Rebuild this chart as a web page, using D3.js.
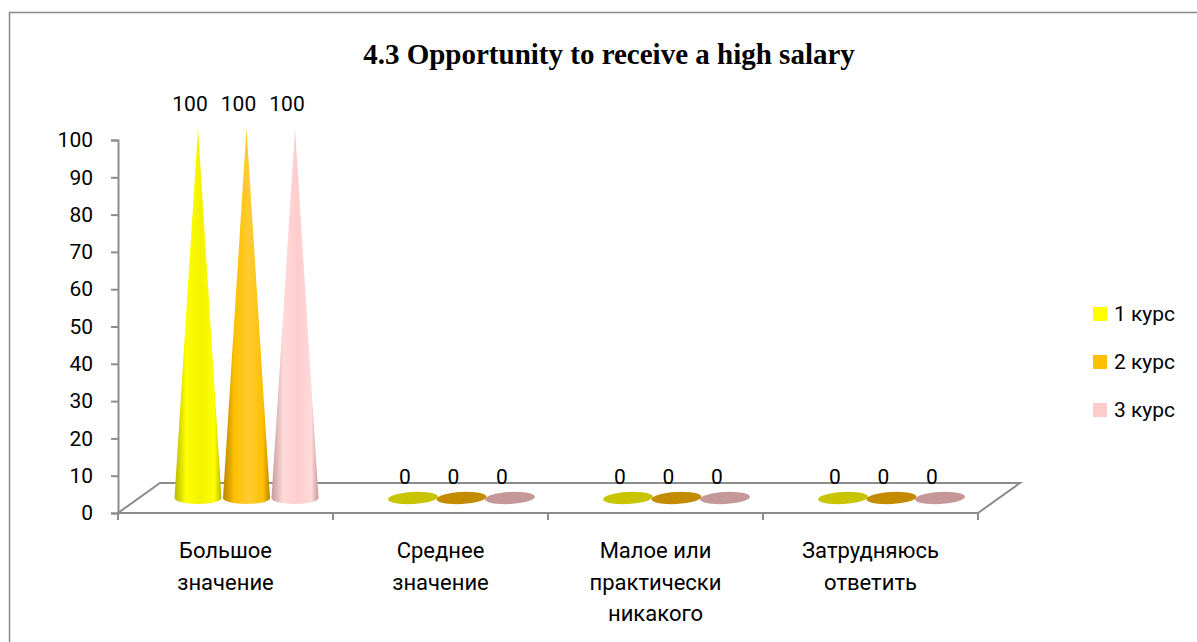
<!DOCTYPE html>
<html>
<head>
<meta charset="utf-8">
<script src="https://cdnjs.cloudflare.com/ajax/libs/d3/7.8.5/d3.min.js"></script>
<style>
  html, body { margin: 0; padding: 0; background: #fff; }
  svg text { font-family: Roboto, "Noto Sans", sans-serif; fill: #000; }
</style>
</head>
<body>
<div id="chart"></div>
<script>
// chart data
var categories = [
    ['Большое', 'значение'],
    ['Среднее', 'значение'],
    ['Малое или', 'практически', 'никакого'],
    ['Затрудняюсь', 'ответить']
];
var seriesNames = ['1 курс', '2 курс', '3 курс'];
var seriesValues = [
    [100, 0, 0, 0],
    [100, 0, 0, 0],
    [100, 0, 0, 0]
];
var yTicks = [0, 10, 20, 30, 40, 50, 60, 70, 80, 90, 100];
var titleText = '4.3 Opportunity to receive a high salary';

var seriesColors = [
    {light: '#ffff00', mid: '#f2f200', dark: '#b8b800', flat: '#c8c400', key: '#ffff00'},
    {light: '#ffc000', mid: '#ffcc33', dark: '#b88600', flat: '#c38b00', key: '#ffc000'},
    {light: '#ffdada', mid: '#ffcccc', dark: '#c49a9a', flat: '#c49898', key: '#ffcccc'}
];

var width = 1197, height = 642;
var plot = {left: 118, right: 978, top: 140, bottom: 513};
var depth = {dx: 42, dy: -30};
var fontSize = '21px';

var svg = d3.select('#chart').append('svg')
    .attr('width', width)
    .attr('height', height);

var defs = svg.append('defs');
seriesColors.forEach(function (c, i) {
    var g = defs.append('linearGradient')
        .attr('id', 'cone' + i)
        .attr('x1', '0%').attr('x2', '100%')
        .attr('y1', '0%').attr('y2', '0%');
    g.append('stop').attr('offset', '0%').attr('stop-color', c.dark);
    g.append('stop').attr('offset', '25%').attr('stop-color', c.light);
    g.append('stop').attr('offset', '55%').attr('stop-color', c.mid);
    g.append('stop').attr('offset', '85%').attr('stop-color', c.light);
    g.append('stop').attr('offset', '100%').attr('stop-color', c.dark);
});

// outer border
svg.append('rect')
    .attr('x', 9.5).attr('y', 12.5)
    .attr('width', width + 10).attr('height', height + 10)
    .attr('fill', 'none')
    .attr('stroke', '#898989')
    .attr('stroke-width', 1.5);

svg.append('text')
    .attr('x', 609).attr('y', 64)
    .attr('text-anchor', 'middle')
    .style('font-family', '"Liberation Serif", "Times New Roman", serif')
    .style('font-weight', 'bold')
    .style('font-size', '29px')
    .text(titleText);

var x = d3.scaleBand()
    .domain(d3.range(categories.length))
    .range([plot.left, plot.right]);
var xSub = d3.scaleBand()
    .domain(d3.range(seriesNames.length))
    .range([-72.75, 72.75]);
var y = d3.scaleLinear()
    .domain([0, 100])
    .range([plot.bottom, plot.top]);

// floor
var floor = [
    [plot.left, plot.bottom],
    [plot.right, plot.bottom],
    [plot.right + depth.dx, plot.bottom + depth.dy],
    [plot.left + depth.dx, plot.bottom + depth.dy]
];
svg.append('path')
    .attr('d', d3.line()(floor) + 'Z')
    .attr('fill', 'none')
    .attr('stroke', '#8c8c8c')
    .attr('stroke-width', 2);

// y axis
var yAxis = d3.axisLeft(y)
    .tickValues(yTicks)
    .tickSize(7);
var yG = svg.append('g')
    .attr('transform', 'translate(' + plot.left + ',0)')
    .call(yAxis);
yG.select('.domain').attr('stroke', '#8c8c8c').attr('stroke-width', 2);
yG.selectAll('.tick line').attr('stroke', '#8c8c8c').attr('stroke-width', 2);
yG.selectAll('.tick text')
    .style('font-size', fontSize)
    .style('font-family', 'Roboto, "Noto Sans", sans-serif')
    .attr('x', -25);

// x axis ticks
var xTickPos = d3.range(categories.length + 1).map(function (i) {
    return i < categories.length ? x(i) : plot.right;
});
svg.append('g').selectAll('line')
    .data(xTickPos)
    .enter().append('line')
    .attr('x1', function (d) { return d; })
    .attr('x2', function (d) { return d; })
    .attr('y1', plot.bottom)
    .attr('y2', plot.bottom + 7)
    .attr('stroke', '#8c8c8c')
    .attr('stroke-width', 2);

// category labels
var catG = svg.append('g').selectAll('text')
    .data(categories)
    .enter().append('text')
    .attr('text-anchor', 'middle')
    .style('font-size', '22px')
    .attr('transform', function (d, i) {
        return 'translate(' + (x(i) + x.bandwidth() / 2) + ',558)';
    });
catG.selectAll('tspan')
    .data(function (d) { return d; })
    .enter().append('tspan')
    .attr('x', 0)
    .attr('y', function (d, i) { return i * 31.5; })
    .text(function (d) { return d; });

// marks
var baseY = plot.bottom + depth.dy / 2;
var coneRx = 23.5, coneRy = 6;
var marks = [];
seriesValues.forEach(function (vals, s) {
    vals.forEach(function (v, c) {
        marks.push({s: s, c: c, v: v});
    });
});

function cx(d) {
    return x(d.c) + x.bandwidth() / 2 + xSub(d.s) + xSub.bandwidth() / 2 + depth.dx / 2;
}

var markG = svg.append('g');
marks.forEach(function (d) {
    var px = cx(d);
    if (d.v > 0) {
        var tip = y(d.v) + depth.dy / 2 + 3;
        var p = d3.path();
        p.moveTo(px - coneRx, baseY);
        p.lineTo(px, tip);
        p.lineTo(px + coneRx, baseY);
        var dd = p.toString() +
            ' A' + coneRx + ',' + coneRy + ' 0 0 1 ' + (px - coneRx) + ',' + baseY + 'Z';
        markG.append('path')
            .attr('d', dd)
            .attr('fill', 'url(#cone' + d.s + ')');
    } else {
        markG.append('ellipse')
            .attr('cx', px)
            .attr('cy', baseY)
            .attr('rx', 25)
            .attr('ry', 6)
            .attr('transform', 'rotate(-3,' + px + ',' + baseY + ')')
            .attr('fill', seriesColors[d.s].flat);
    }
});

// data labels
svg.append('g').selectAll('text')
    .data(marks)
    .enter().append('text')
    .attr('text-anchor', 'middle')
    .style('font-size', fontSize)
    .attr('x', function (d) { return cx(d) - 8; })
    .attr('y', function (d) { return d.v > 0 ? y(d.v) - 29 : baseY - 14; })
    .text(function (d) { return d.v; });

// legend
var legend = svg.append('g').selectAll('g')
    .data(seriesNames)
    .enter().append('g')
    .attr('transform', function (d, i) {
        return 'translate(1093,' + (307 + i * 48) + ')';
    });
legend.append('rect')
    .attr('width', 14).attr('height', 14)
    .attr('fill', function (d, i) { return seriesColors[i].key; });
legend.append('text')
    .attr('x', 21).attr('y', 14)
    .style('font-size', fontSize)
    .text(function (d) { return d; });
</script>
</body>
</html>
